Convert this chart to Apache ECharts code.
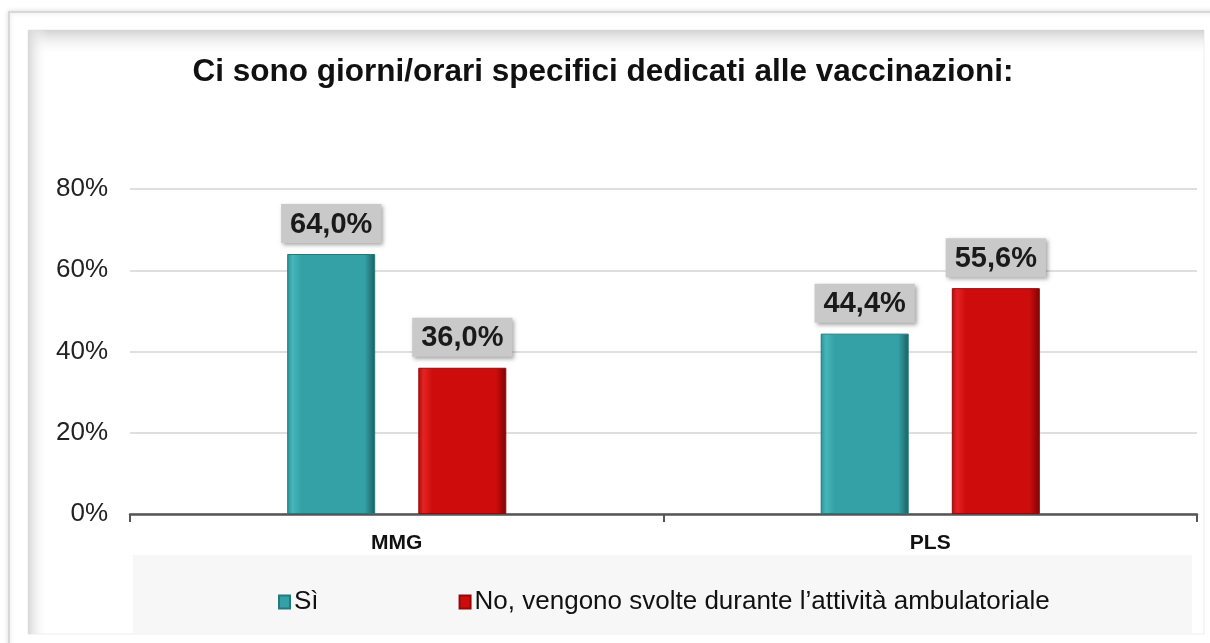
<!DOCTYPE html>
<html>
<head>
<meta charset="utf-8">
<script src="https://cdn.jsdelivr.net/npm/echarts@6/dist/echarts.min.js"></script>
<style>
  html, body { margin: 0; padding: 0; background: #fff; }
  #chart { width: 1210px; height: 643px; }
</style>
</head>
<body>
<div id="chart"></div>
<script>
const titleText = 'Ci sono giorni/orari specifici dedicati alle vaccinazioni:'
const categories = ['MMG', 'PLS']
const seriesNames = ['Sì', 'No, vengono svolte durante l\u2019attività ambulatoriale']
const siValues = [64.0, 44.4]
const noValues = [36.0, 55.6]
const yTicks = [0, 20, 40, 60, 80]

const chart = echarts.init(document.getElementById('chart'))

function fmtPct(v) {
  return v.toFixed(1).replace('.', ',') + '%'
}

const labelStyle = {
  show: true,
  position: 'top',
  distance: 11,
  formatter: (p) => fmtPct(p.value),
  color: '#1a1a1a',
  fontFamily: 'Liberation Sans, Arial, sans-serif',
  fontWeight: 'bold',
  fontSize: 29,
  backgroundColor: '#c9c9c9',
  padding: [6, 9, 4, 9],
  shadowColor: 'rgba(0,0,0,0.35)',
  shadowBlur: 4,
  shadowOffsetX: 2,
  shadowOffsetY: 2
}

function barGradient(edge, light, mid, dark) {
  return new echarts.graphic.LinearGradient(0, 0, 1, 0, [
    { offset: 0, color: edge },
    { offset: 0.06, color: light },
    { offset: 0.16, color: mid },
    { offset: 0.88, color: mid },
    { offset: 1, color: dark }
  ])
}

chart.setOption({
  animation: false,
  backgroundColor: '#ffffff',
  graphic: [
    // outer frame
    { type: 'rect', z: -10, shape: { x: 9, y: 12, width: 1215, height: 640 },
      style: { fill: '#ffffff', stroke: '#d8d8d8', lineWidth: 2, shadowBlur: 5, shadowColor: 'rgba(0,0,0,0.12)' } },
    // inner panel
    { type: 'rect', z: -9, shape: { x: 28, y: 30, width: 1176, height: 604 },
      style: { fill: '#ffffff', stroke: '#ededed', lineWidth: 1 } },
    // inner top bevel shadow
    { type: 'rect', z: -8, shape: { x: 28, y: 30, width: 1176, height: 26 },
      style: { fill: new echarts.graphic.LinearGradient(0, 0, 0, 1, [
        { offset: 0, color: '#d2d2d2' }, { offset: 1, color: 'rgba(255,255,255,0)' }]) } },
    // inner left bevel shadow
    { type: 'rect', z: -8, shape: { x: 28, y: 30, width: 20, height: 604 },
      style: { fill: new echarts.graphic.LinearGradient(0, 0, 1, 0, [
        { offset: 0, color: '#d8d8d8' }, { offset: 1, color: 'rgba(255,255,255,0)' }]) } },
    // legend band
    { type: 'rect', z: -7, shape: { x: 133, y: 555, width: 1059, height: 78 },
      style: { fill: '#f7f7f7' } }
  ],
  title: {
    text: titleText,
    left: 598,
    textAlign: 'center',
    top: 51,
    textStyle: {
      fontFamily: 'Liberation Sans, Arial, sans-serif',
      fontWeight: 'bold',
      fontSize: 31.5,
      color: '#111'
    }
  },
  legend: {
    data: seriesNames,
    left: 273,
    top: 584,
    icon: 'rect',
    itemWidth: 11,
    itemHeight: 13,
    itemGap: 140,
    textStyle: {
      fontFamily: 'Liberation Sans, Arial, sans-serif',
      fontSize: 26,
      color: '#111',
      padding: [0, 0, 0, -1]
    }
  },
  grid: { left: 130, right: 13, top: 189, bottom: 129, containLabel: false },
  xAxis: {
    type: 'category',
    data: categories,
    axisLine: { lineStyle: { color: '#555', width: 2.5 } },
    axisTick: { show: true, length: 8, lineStyle: { color: '#555', width: 2 } },
    axisLabel: {
      margin: 19,
      fontFamily: 'Liberation Sans, Arial, sans-serif',
      fontWeight: 'bold',
      fontSize: 21,
      color: '#111'
    }
  },
  yAxis: {
    type: 'value',
    min: yTicks[0],
    max: yTicks[yTicks.length - 1],
    interval: yTicks[1] - yTicks[0],
    axisLine: { show: false },
    axisTick: { show: false },
    splitLine: { lineStyle: { color: '#d4d4d4', width: 1.5 } },
    axisLabel: {
      margin: 22,
      formatter: (v) => v + '%',
      fontFamily: 'Liberation Sans, Arial, sans-serif',
      fontSize: 26,
      color: '#222'
    }
  },
  series: [
    {
      name: seriesNames[0],
      type: 'bar',
      data: siValues,
      barWidth: 88,
      barGap: '49%',
      color: '#2f9ea3',
      itemStyle: {
        color: barGradient('#2a9296', '#46b6bb', '#34a1a6', '#1a5f63'),
        borderColor: '#25787c',
        borderWidth: 1
      },
      label: labelStyle
    },
    {
      name: seriesNames[1],
      type: 'bar',
      data: noValues,
      barWidth: 88,
      barGap: '49%',
      color: '#cc0c0c',
      itemStyle: {
        color: barGradient('#b80a0a', '#e42424', '#cf0c0c', '#7e0505'),
        borderColor: '#960808',
        borderWidth: 1
      },
      label: labelStyle
    }
  ]
})
</script>
</body>
</html>
